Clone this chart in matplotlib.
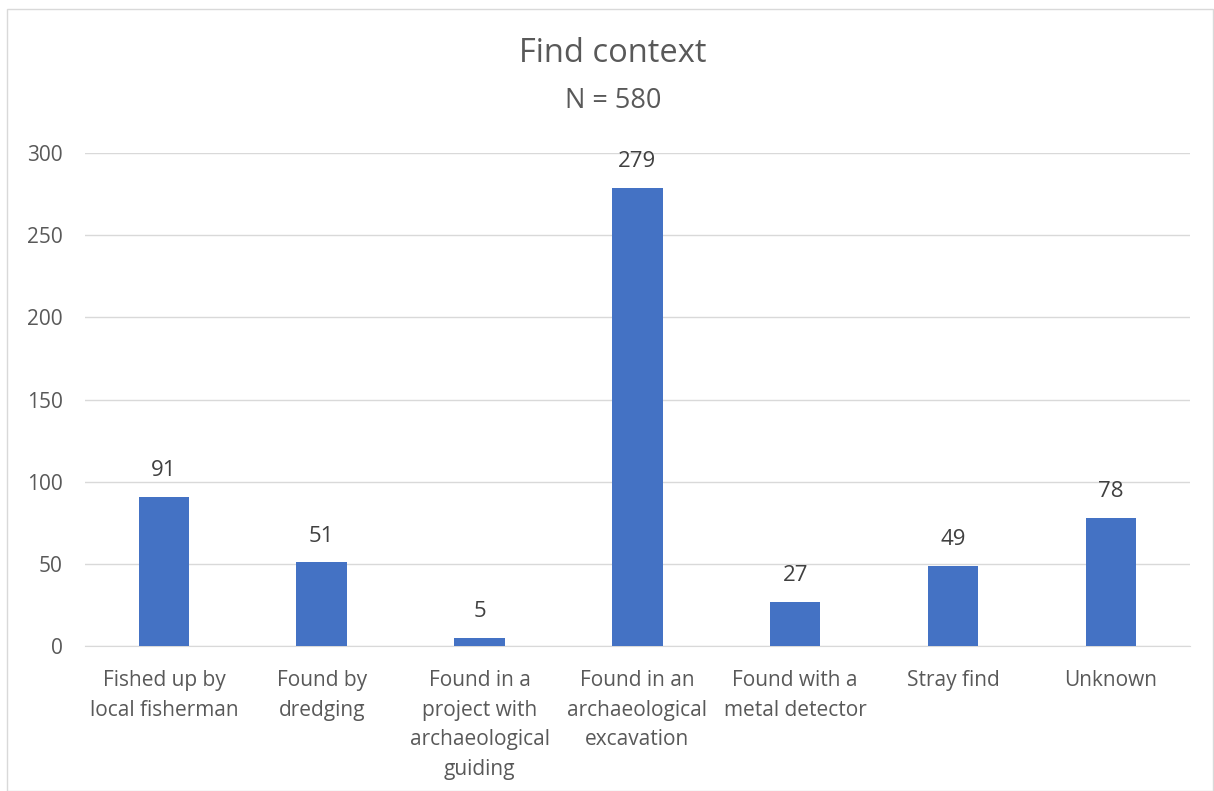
import matplotlib.pyplot as plt
from matplotlib.patches import Rectangle

# data
categories = [
    "Fished up by\nlocal fisherman",
    "Found by\ndredging",
    "Found in a\nproject with\narchaeological\nguiding",
    "Found in an\narchaeological\nexcavation",
    "Found with a\nmetal detector",
    "Stray find",
    "Unknown",
]
counts = [91, 51, 5, 279, 27, 49, 78]
yticks = [0, 50, 100, 150, 200, 250, 300]

plt.rcParams["font.family"] = ["Open Sans", "DejaVu Sans"]
text_col = "#595959"

fig = plt.figure(figsize=(12.14, 7.91), dpi=100)
ax = fig.add_axes([0.070, 0.183, 0.910, 0.6236])

x = range(len(categories))
ax.bar(x, counts, width=0.32, color="#4472C4", zorder=3)

# valeurs au-dessus des barres
for i, v in enumerate(counts):
    ax.annotate(str(v), (i, v), xytext=(0, 19), textcoords="offset points",
                ha="center", va="center", fontsize=16, color="#404040")

ax.set_xlim(-0.5, len(categories) - 0.5)
ax.set_ylim(0, 300)
ax.set_yticks(yticks)
ax.set_xticks(list(x))
ax.set_xticklabels(categories, fontsize=15, color=text_col, va="top", linespacing=1.55)
ax.tick_params(axis="y", labelsize=15, labelcolor=text_col, length=0, pad=16)
ax.tick_params(axis="x", length=0, pad=17)
ax.grid(axis="y", color="#d9d9d9", linewidth=1, zorder=0)

for side in ["top", "right", "left"]:
    ax.spines[side].set_visible(False)
ax.spines["bottom"].set_color("#d9d9d9")

fig.text(613 / 1214, 1 - 53 / 791, "Find context", ha="center", va="center", fontsize=23.5, color=text_col)
fig.text(613 / 1214, 1 - 101 / 791, "N = 580", ha="center", va="center", fontsize=19.5, color=text_col)

# chart border
fig.patches.append(Rectangle((7 / 1214, 0), 1 - 8 / 1214, 1 - 9 / 791, transform=fig.transFigure,
                             fill=False, edgecolor="#d9d9d9", linewidth=1))

fig.savefig("out.png", dpi=100)
